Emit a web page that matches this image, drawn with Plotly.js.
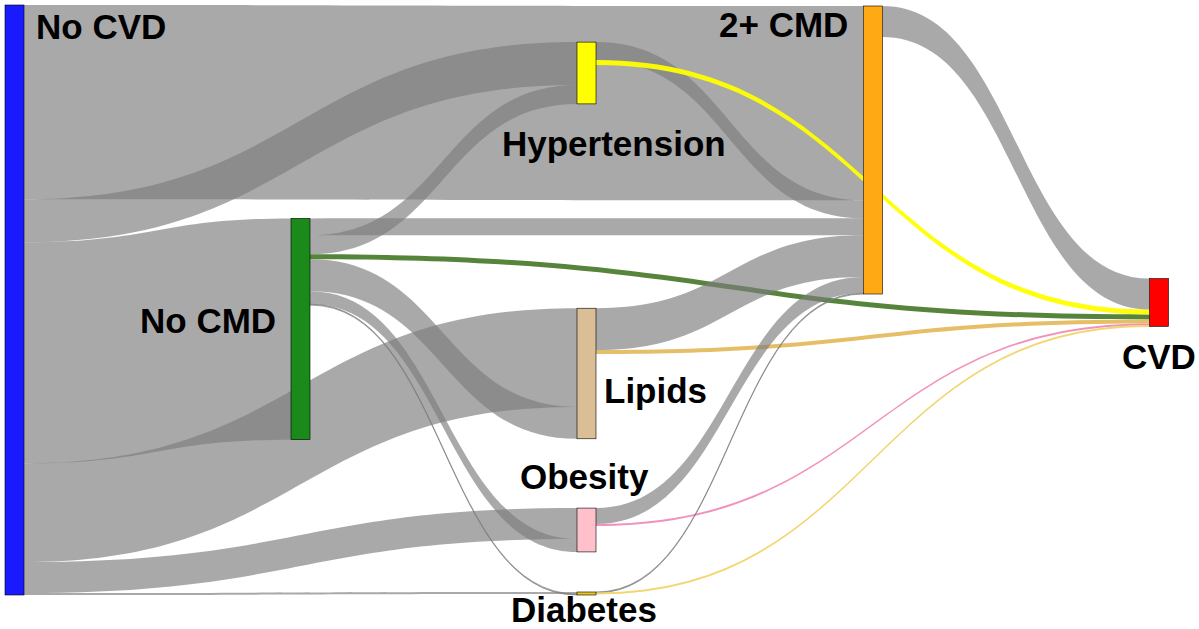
<!DOCTYPE html>
<html><head><meta charset="utf-8">
<script src="https://cdn.plot.ly/plotly-3.0.1.min.js"></script>
<style>html,body{margin:0;padding:0;background:#fff;overflow:hidden}</style>
</head><body><div id="chart" style="width:1199px;height:629px"></div>
<script>
// ---- data ----
const nodeNames = ["No CVD", "No CMD", "Hypertension", "Lipids", "Obesity", "Diabetes", "2+ CMD", "CVD"];
const nodeColors = ["#1A1AFF", "#1B8A1B", "#FFFF00", "#D9BE96", "#FFC0CB", "#E8C81E", "#FFAA14", "#FF0000"];
const nodeLineColors = ["#1414C8", "#177517", "#B5B500", "#A8906C", "#C89AA2", "#B09A20", "#C88A10", "#C80000"];

const linkSources = [0, 0, 0, 0, 0, 0,   1, 1, 1, 1, 1, 1,   2, 2,   3, 3,   4, 4,   5, 5,   6];
const linkTargets = [6, 2, 1, 3, 4, 5,   6, 2, 7, 3, 4, 5,   6, 7,   6, 7,   6, 7,   6, 7,   7];
const linkValues  = [195, 43, 222, 99, 31, 2,   17, 19, 5, 32, 13, 1,   18, 5,   42, 4,   16, 2,   1, 1,   31];

const gray = "rgba(125,125,125,0.66)";
const linkColors = [gray, gray, gray, gray, gray, gray,
                    gray, gray, "rgba(78,125,48,0.95)", gray, gray, gray,
                    gray, "rgba(255,255,0,0.95)",
                    gray, "rgba(228,186,96,0.95)",
                    gray, "rgba(240,140,184,0.95)",
                    gray, "rgba(240,214,110,0.95)",
                    gray];

// ---- layout positions (node centres, fraction of sankey domain) ----
const W = 1199, H = 629, topPx = 5, plotH = 590;
const nodeXpx = [14.5, 300.5, 586.5, 586.5, 586.5, 586.5, 873, 1159];
const nodeYpx = [300, 329, 73, 373.5, 530, 593.5, 150, 302.5];
const nodeX = nodeXpx.map(v => v / W);
const nodeY = nodeYpx.map(v => (v - topPx) / plotH);

// label placement (pixels in the page)
const labelSpecs = [
  {i: 0, x: 34,    y: 26.5,  xa: "left"},
  {i: 1, x: 278,   y: 320,   xa: "right"},
  {i: 2, x: 613.5, y: 143.5, xa: "center"},
  {i: 3, x: 602,   y: 390,   xa: "left"},
  {i: 4, x: 584,   y: 476.5, xa: "center"},
  {i: 5, x: 583.5, y: 609.5, xa: "center"},
  {i: 6, x: 850,   y: 24.5,  xa: "right"},
  {i: 7, x: 1158.5,y: 356.5, xa: "center"}
];

const trace = {
  type: "sankey",
  arrangement: "fixed",
  domain: {x: [0, 1], y: [1 - (topPx + plotH) / H, 1 - topPx / H]},
  hoverinfo: "none",
  node: {
    label: nodeNames.map(() => ""),
    color: nodeColors,
    line: {color: nodeLineColors, width: 0.6},
    thickness: 19,
    pad: 20,
    x: nodeX,
    y: nodeY,
    hoverinfo: "none"
  },
  link: {
    source: linkSources,
    target: linkTargets,
    value: linkValues,
    color: linkColors,
    hoverinfo: "none"
  }
};

const annotations = labelSpecs.map(s => ({
  text: "<b>" + nodeNames[s.i] + "</b>",
  xref: "paper", yref: "paper",
  x: s.x / W, y: 1 - s.y / H,
  xanchor: s.xa, yanchor: "middle",
  showarrow: false,
  font: {family: "Arial, 'Liberation Sans', Helvetica, sans-serif", size: 35, color: "#000"}
}));

const layout = {
  width: W, height: H,
  margin: {l: 0, r: 0, t: 0, b: 0},
  paper_bgcolor: "#fff",
  plot_bgcolor: "#fff",
  showlegend: false,
  annotations: annotations
};

Plotly.newPlot("chart", [trace], layout, {displayModeBar: false, staticPlot: true});
</script>
</body></html>
